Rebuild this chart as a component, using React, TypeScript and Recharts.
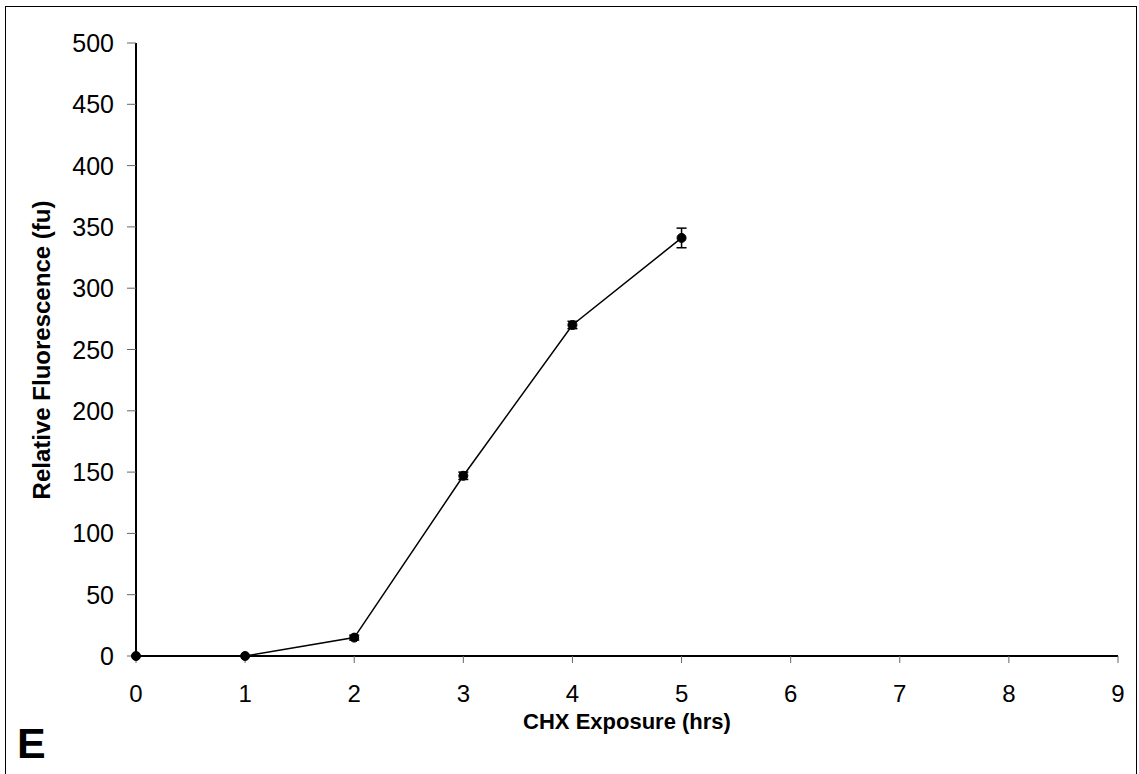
import React from "react";
import { LineChart, Line, XAxis, YAxis, ErrorBar } from "recharts";

const hours = [0, 1, 2, 3, 4, 5];
const fluorescence = [0, 0, 15, 147, 270, 341];
const errors = [0, 0, 2, 3, 3, 8];
const xTicks = [0, 1, 2, 3, 4, 5, 6, 7, 8, 9];
const yTicks = [0, 50, 100, 150, 200, 250, 300, 350, 400, 450, 500];

const data = hours.map((h, i) => ({ h, value: fluorescence[i], err: errors[i] }));

const font = "'Liberation Sans', Arial, sans-serif";

function XTick(props: any) {
  const { x, y, payload } = props;
  return (
    <text x={x} y={y + 37} textAnchor="middle" fontSize={24} fontFamily={font} fill="#000">
      {payload.value}
    </text>
  );
}

function YTick(props: any) {
  const { y, payload } = props;
  return (
    <text x={114} y={y + 9} textAnchor="end" fontSize={25} fontFamily={font} fill="#000">
      {payload.value}
    </text>
  );
}

export default function App() {
  return (
    <div style={{ position: "fixed", left: 0, top: 0, width: 1139, height: 774, background: "#fff", overflow: "hidden" }}>
      <div
        style={{
          position: "absolute",
          left: 5,
          top: 6,
          width: 1132,
          height: 820,
          border: "1.5px solid #000",
          boxSizing: "border-box",
        }}
      />
      <div style={{ position: "absolute", left: 0, top: 0 }}>
        <LineChart width={1139} height={774} data={data} margin={{ top: 43, right: 21, bottom: 0, left: 36 }}>
          <XAxis
            dataKey="h"
            type="number"
            domain={[0, 9]}
            ticks={xTicks}
            interval={0}
            tick={<XTick />}
            tickSize={7}
            height={118}
            axisLine={{ stroke: "#000", strokeWidth: 2 }}
            tickLine={{ stroke: "#666", strokeWidth: 1 }}
          />
          <XAxis
            xAxisId="top"
            dataKey="h"
            type="number"
            domain={[0, 9]}
            orientation="top"
            tick={false}
            tickLine={false}
            height={0}
            axisLine={{ stroke: "#000", strokeWidth: 2 }}
          />
          <YAxis
            type="number"
            domain={[0, 500]}
            ticks={yTicks}
            interval={0}
            tick={<YTick />}
            tickSize={9}
            width={100}
            axisLine={{ stroke: "#000", strokeWidth: 2 }}
            tickLine={{ stroke: "#666", strokeWidth: 1 }}
          />
          <YAxis
            yAxisId="right"
            type="number"
            domain={[0, 500]}
            orientation="right"
            tick={false}
            tickLine={false}
            width={0}
            axisLine={{ stroke: "#000", strokeWidth: 2 }}
          />
          <Line
            dataKey="value"
            stroke="#000"
            strokeWidth={1.5}
            type="linear"
            dot={{ r: 4.5, fill: "#000", stroke: "#000", strokeWidth: 1 }}
            activeDot={false}
            isAnimationActive={false}
          >
            <ErrorBar dataKey="err" width={5} stroke="#000" strokeWidth={1.5} direction="y" />
          </Line>
        </LineChart>
      </div>
      <svg width={1139} height={774} style={{ position: "absolute", left: 0, top: 0, pointerEvents: "none" }}>
        <text
          x={0}
          y={0}
          transform="translate(50 350) rotate(-90)"
          textAnchor="middle"
          fontSize={24}
          fontWeight="bold"
          fontFamily={font}
          fill="#000"
        >
          Relative Fluorescence (fu)
        </text>
        <text x={627} y={729} textAnchor="middle" fontSize={22} fontWeight="bold" fontFamily={font} fill="#000">
          CHX Exposure (hrs)
        </text>
        <text x={17} y={758} fontSize={43} fontWeight="bold" fontFamily={font} fill="#000">
          E
        </text>
      </svg>
    </div>
  );
}
